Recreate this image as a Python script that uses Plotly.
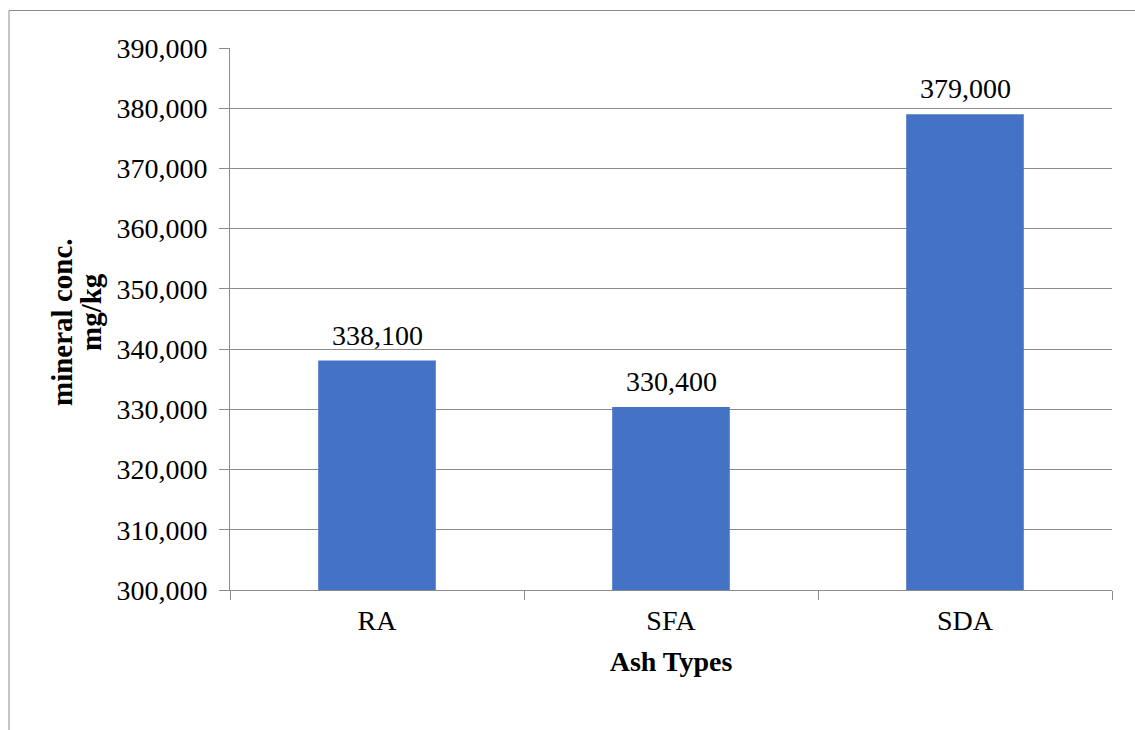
import plotly.graph_objects as go

categories = ["RA", "SFA", "SDA"]
values = [338100, 330400, 379000]
labels = ["338,100", "330,400", "379,000"]

L, R, T, B = 230, 23, 48, 140
W, H = 1135, 730
pw, ph = W - L - R, H - T - B

def px_x(x):
    return (x - L) / pw

def px_y(y):
    return (H - B - y) / ph

font = "Liberation Serif"
grid = "#8c8c8c"

fig = go.Figure(go.Bar(
    x=categories, y=values, width=0.4,
    marker=dict(color="#4472C4", line=dict(width=0)),
    hoverinfo="x+y",
))

for c, v, t in zip(categories, values, labels):
    fig.add_annotation(
        x=c, y=v, xref="x", yref="y", text=t, showarrow=False,
        yanchor="bottom", yshift=8,
        font=dict(family=font, size=28, color="#000000"),
    )

fig.update_layout(
    width=W, height=H, margin=dict(l=L, r=R, t=T, b=B),
    paper_bgcolor="white", plot_bgcolor="white",
    showlegend=False, font=dict(family=font, color="#000000"),
)
fig.update_yaxes(
    range=[300000, 390000], dtick=10000, tickformat=",",
    showgrid=True, gridcolor=grid, gridwidth=1,
    showline=True, linecolor=grid, linewidth=1,
    ticks="outside", ticklen=10, tickcolor=grid,
    tickfont=dict(family=font, size=28, color="#000000"),
    zeroline=False, ticklabelstandoff=6,
)
fig.update_xaxes(
    showline=True, linecolor=grid, linewidth=1,
    ticks="outside", ticklen=9, tickcolor=grid, tickson="boundaries",
    tickfont=dict(family=font, size=28, color="#000000"),
    ticklabelstandoff=5,
    title=dict(text="<b>Ash Types</b>", font=dict(family=font, size=28), standoff=16),
)
fig.add_annotation(
    text="<b>mineral conc.</b>", xref="paper", yref="paper",
    x=px_x(62), y=px_y(322), textangle=-90, showarrow=False,
    font=dict(family=font, size=29, color="#000000"), xanchor="center", yanchor="middle",
)
fig.add_annotation(
    text="<b>mg/kg</b>", xref="paper", yref="paper",
    x=px_x(91), y=px_y(312), textangle=-90, showarrow=False,
    font=dict(family=font, size=29, color="#000000"), xanchor="center", yanchor="middle",
)
fig.add_shape(
    type="rect", xref="paper", yref="paper",
    x0=px_x(9), x1=px_x(1200), y0=px_y(800), y1=px_y(10.5),
    line=dict(color="#8c8c8c", width=1), fillcolor="rgba(0,0,0,0)", layer="below",
)

fig.write_html("out.html")
